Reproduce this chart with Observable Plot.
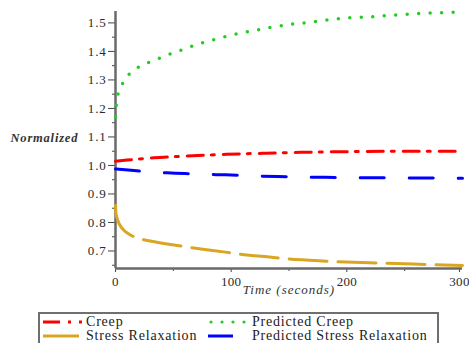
<!DOCTYPE html>
<html>
<head>
<meta charset="utf-8">
<script src="https://cdn.jsdelivr.net/npm/d3@7"></script>
<script src="https://cdn.jsdelivr.net/npm/@observablehq/plot@0.6"></script>
<style>
  html, body { margin: 0; padding: 0; background: #fff; overflow: hidden; }
  body { width: 469px; height: 343px; font-family: "Liberation Serif", "Times New Roman", serif; }
  #chart svg, #chart svg text { font-family: "Liberation Serif", "Times New Roman", serif !important; }
  #chart .tickylab text { letter-spacing: 0.8px; }
  #chart .tickxlab text { letter-spacing: 0.3px; }
  #chart .ylab text { letter-spacing: 0.8px; }
  #chart .xlab text { letter-spacing: 1px; }
  #legend { position: relative; margin-left: 38px; margin-top: 7px; width: 397px; height: 40px;
            border: 2px solid #6f6f6f; box-sizing: content-box; background: #fff; }
  .lg-item { position: absolute; font-size: 14px; line-height: 14px; letter-spacing: 0.8px; color: #222; white-space: nowrap; }
  .lg-sample { position: absolute; }
</style>
</head>
<body>
<div id="chart"></div>
<div id="legend"></div>
<script>
// ---- data ----
const seriesNames = ["Creep", "Predicted Creep", "Stress Relaxation", "Predicted Stress Relaxation"];
const seriesColors = ["#ff0000", "#22cc22", "#daa520", "#0000ff"];

const creepT = [0, 10, 33, 62, 96, 130, 160, 217, 260, 300];
const creepV = [1.015, 1.019, 1.027, 1.033, 1.039, 1.043, 1.046, 1.049, 1.05, 1.05];

const predCreepT = [0, 0.5, 1.5, 4.3, 7.8, 14.8, 22, 31, 39.5, 48.7, 57.6, 67.2, 76.3, 85.6, 95.1, 104.6, 114.3, 123.9, 133.4, 143.2, 152.7, 163, 183, 203, 223, 243, 263, 283, 300];
const predCreepV = [1.17, 1.2, 1.238, 1.27, 1.3, 1.33, 1.35, 1.365, 1.379, 1.393, 1.406, 1.42, 1.432, 1.442, 1.452, 1.461, 1.469, 1.476, 1.484, 1.49, 1.496, 1.5, 1.51, 1.518, 1.522, 1.528, 1.533, 1.536, 1.539];

const relaxT = [0, 0.5, 2, 5.8, 11.5, 20, 30, 52, 62, 95, 102, 135, 145, 179, 232, 275, 300];
const relaxV = [0.86, 0.83, 0.807, 0.779, 0.76, 0.744, 0.735, 0.72, 0.714, 0.696, 0.692, 0.678, 0.674, 0.665, 0.657, 0.652, 0.649];

const predRelaxT = [0, 16, 30, 52, 75, 95, 140, 190, 260, 300];
const predRelaxV = [0.988, 0.982, 0.977, 0.973, 0.969, 0.967, 0.961, 0.958, 0.956, 0.955];

const xTicks = [0, 100, 200];
const xLastTick = [300];
const xMinorTicks = [50, 150, 250];
const yTicks = [0.7, 0.8, 0.9, 1.0, 1.1, 1.2, 1.3, 1.4, 1.5];
const yMinorTicks = [0.65, 0.75, 0.85, 0.95, 1.05, 1.15, 1.25, 1.35, 1.45];
const xDomain = [0, 300];
const yDomain = [0.6386, 1.54];
const xLabel = "Time (seconds)";
const yLabel = "Normalized";

// ---- build tables ----
const zip = (T, V, s) => T.map((t, i) => ({t, v: V[i], s}));
const creep = zip(creepT, creepV, seriesNames[0]);
const predCreep = zip(predCreepT, predCreepV, seriesNames[1]);
const relax = zip(relaxT, relaxV, seriesNames[2]);
const predRelax = zip(predRelaxT, predRelaxV, seriesNames[3]);

const axisColor = "#6a6a6a";
const ff = "'Liberation Serif', 'Times New Roman', serif";

const chart = Plot.plot({
  width: 469,
  height: 305,
  marginLeft: 115,
  marginRight: 7,
  marginTop: 11,
  marginBottom: 37,
  x: {domain: xDomain},
  y: {domain: yDomain},
  style: {fontFamily: ff, fontSize: "13px", color: "#333", background: "#fff"},
  marks: [
    Plot.axisY({ticks: yTicks, tickSize: 7, tickPadding: 2, tickFormat: d3.format(".1f"), label: null, stroke: "#444", fill: "#2a2a2a", fontSize: 13, className: "tickylab"}),
    Plot.axisY({ticks: yMinorTicks, tickSize: 3, tickFormat: () => "", label: null, stroke: "#444"}),
    Plot.axisX({ticks: xTicks, tickSize: 4, tickPadding: 4, label: null, stroke: "#444", fill: "#2a2a2a", fontSize: 13, className: "tickxlab"}),
    Plot.axisX({ticks: xLastTick, tickSize: 4, tickPadding: 4, label: null, stroke: "#444", fill: "#2a2a2a", fontSize: 13, dx: -3, className: "tickxlab"}),
    Plot.axisX({ticks: xMinorTicks, tickSize: 3, tickFormat: () => "", label: null, stroke: "#444"}),
    Plot.ruleX([xDomain[0]], {stroke: axisColor, strokeWidth: 2.5}),
    Plot.ruleY([yDomain[0]], {stroke: axisColor, strokeWidth: 2.5}),
    Plot.text([yLabel], {text: d => d, frameAnchor: "left", dx: -105, dy: -2, textAnchor: "start", fontStyle: "italic", fontWeight: "bold", fontSize: 12.5, fill: "#333", className: "ylab"}),
    Plot.text([xLabel], {text: d => d, frameAnchor: "bottom", dy: 25, textAnchor: "middle", fontStyle: "italic", fontSize: 13, fill: "#333", className: "xlab"}),
    Plot.line(relax, {x: "t", y: "v", stroke: seriesColors[2], strokeWidth: 3, strokeDasharray: "38,11", curve: "monotone-x"}),
    Plot.line(predRelax, {x: "t", y: "v", stroke: seriesColors[3], strokeWidth: 3, strokeDasharray: "24,25", curve: "monotone-x"}),
    Plot.line(creep, {x: "t", y: "v", stroke: seriesColors[0], strokeWidth: 3, strokeDasharray: "16,8,3,9", curve: "monotone-x"}),
    Plot.line(predCreep, {x: "t", y: "v", stroke: seriesColors[1], strokeWidth: 3.5, strokeDasharray: "0,11.5", strokeLinecap: "round", curve: "monotone-x"})
  ]
});
document.getElementById("chart").append(chart);

// ---- legend (HTML, below the SVG) ----
const legend = document.getElementById("legend");
const ns = "http://www.w3.org/2000/svg";
function sample(left, top, w, color, dash, cap, sw) {
  const svg = document.createElementNS(ns, "svg");
  svg.setAttribute("width", w + 4);
  svg.setAttribute("height", 8);
  svg.setAttribute("class", "lg-sample");
  svg.style.left = (left - 2) + "px";
  svg.style.top = (top - 4) + "px";
  const ln = document.createElementNS(ns, "line");
  ln.setAttribute("x1", 2); ln.setAttribute("x2", w + 2);
  ln.setAttribute("y1", 4); ln.setAttribute("y2", 4);
  ln.setAttribute("stroke", color);
  ln.setAttribute("stroke-width", sw);
  if (dash) ln.setAttribute("stroke-dasharray", dash);
  if (cap) ln.setAttribute("stroke-linecap", cap);
  svg.append(ln);
  legend.append(svg);
}
function label(left, top, text) {
  const d = document.createElement("div");
  d.className = "lg-item";
  d.style.left = left + "px";
  d.style.top = top + "px";
  d.textContent = text;
  legend.append(d);
}
const row1 = 8, row2 = 22;
sample(3, row1, 40, seriesColors[0], "17,8,3,8,3,100", null, 3);
label(46, row1 - 7, seriesNames[0]);
sample(171, row1, 34, seriesColors[1], "0,11", "round", 3.2);
label(212, row1 - 7, seriesNames[1]);
sample(3, row2, 36, seriesColors[2], null, null, 3);
label(46, row2 - 7, seriesNames[2]);
sample(168, row2, 25, seriesColors[3], null, null, 3);
label(212, row2 - 7, seriesNames[3]);
</script>
</body>
</html>
